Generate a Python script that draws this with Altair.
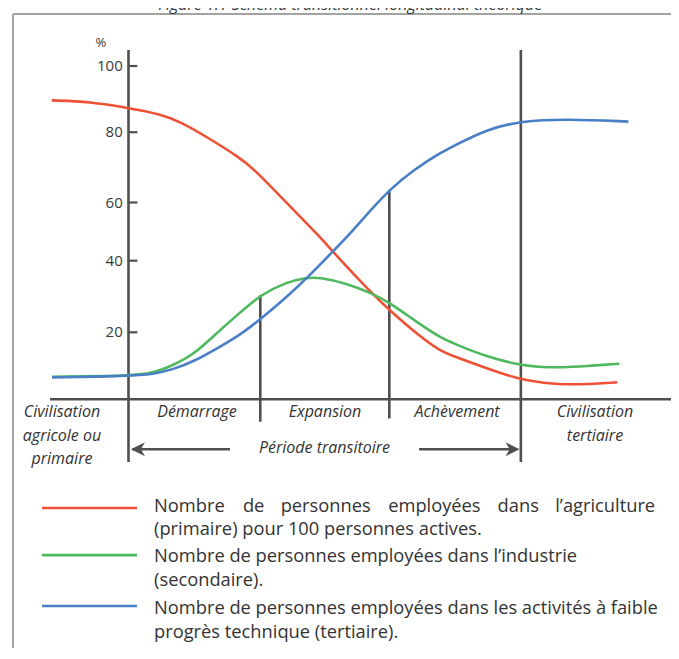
import altair as alt
import pandas as pd

# ---------------- data (x: phase units, 0 = start of "Démarrage"; y: %) ----------------
red_x = [-0.586, -0.294, 0.0, 0.240, 0.393, 0.597, 0.851, 0.953, 1.208, 1.462, 1.559,
         1.856, 1.992, 2.225, 2.378, 2.479, 2.734, 2.996, 3.240, 3.447, 3.731]
red_y = [89.6, 89.2, 87.3, 85.5, 83.2, 78.7, 72.7, 69.7, 59.8, 48.2, 43.1,
         30.9, 26.2, 18.7, 14.5, 12.9, 9.25, 5.76, 4.57, 4.36, 5.07]

green_x = [-0.584, 0.0, 0.189, 0.342, 0.495, 0.698, 0.851, 1.006, 1.208, 1.363, 1.449,
           1.666, 1.856, 1.994, 2.225, 2.378, 2.479, 2.734, 2.998, 3.280, 3.548, 3.747]
green_y = [6.75, 6.96, 7.76, 10.24, 13.22, 20.6, 25.5, 30.4, 34.1, 35.25, 35.4,
           33.7, 30.9, 28.3, 22.2, 18.5, 16.7, 12.7, 10.0, 9.34, 10.1, 10.6]

blue_x = [-0.584, 0.0, 0.189, 0.342, 0.495, 0.698, 0.851, 1.006, 1.208, 1.365, 1.559,
          1.716, 1.843, 1.991, 2.174, 2.378, 2.479, 2.734, 3.0, 3.340, 3.816]
blue_y = [6.5, 6.96, 7.46, 8.96, 11.2, 15.7, 19.2, 23.6, 29.9, 35.25, 43.1,
          50.5, 57.1, 63.6, 69.2, 74.1, 76.0, 80.9, 83.4, 84.0, 83.2]

series_names = ["primaire", "secondaire", "tertiaire"]
series_colors = ["#EE5236", "#4DB85D", "#4A7FC7"]

y_ticks = [20, 40, 60, 80, 100]

phase_labels = ["Civilisation", "agricole ou", "primaire", "Démarrage", "Expansion",
                "Achèvement", "Civilisation", "tertiaire"]
transition_label = "Période transitoire"
title_text = "Figure 1.1 Schéma transitionnel longitudinal théorique"

legend_first_words = ["Nombre", "de", "personnes", "employées", "dans", "l’agriculture"]
legend_lines = [
    "(primaire) pour 100 personnes actives.",
    "Nombre de personnes employées dans l’industrie",
    "(secondaire).",
    "Nombre de personnes employées dans les activités à faible",
    "progrès technique (tertiaire).",
]

# ---------------- layout (positions in the same scale units) ----------------
phase_pos_u = [-0.508, -0.508, -0.508, 0.523, 1.5, 2.508, 3.561, 3.561]
phase_pos_v = [-3.79, -10.81, -17.82, -3.79, -3.70, -3.79, -3.79, -10.81]

W, H = 663, 640
AX = "#4F4F4F"
FONT = "Open Sans"
LEG_FS = 18.3
LEG_U = 0.195

xs = alt.Scale(domain=[-0.9198, 4.1412], nice=False, zero=False)
ys = alt.Scale(domain=[0, 20, 40, 60, 80, 100],
               range=[391.3, 324.3, 252.7, 194.5, 124.2, 58.0],
               nice=False, zero=False)


def X(f):
    return alt.X(f, type="quantitative", scale=xs, axis=None)


def Y(f):
    return alt.Y(f, type="quantitative", scale=ys, axis=None)


# curves
rows = []
for name, xx, yy in zip(series_names, [red_x, green_x, blue_x], [red_y, green_y, blue_y]):
    for a, b in zip(xx, yy):
        rows.append({"s": name, "u": a, "v": b})
curves_df = pd.DataFrame(rows)

# structural lines
rules_df = pd.DataFrame([
    {"u": 0.0, "u2": 0.0, "v": 104.8, "v2": -18.7},
    {"u": 1.006, "u2": 1.006, "v": 30.4, "v2": -6.7},
    {"u": 1.991, "u2": 1.991, "v": 63.6, "v2": -5.7},
    {"u": 2.995, "u2": 2.995, "v": 104.8, "v2": -18.7},
    {"u": -0.599, "u2": 4.2, "v": 0.0, "v2": 0.0},
    {"u": 0.03, "u2": 0.775, "v": -14.93, "v2": -14.93},
    {"u": 2.218, "u2": 2.96, "v": -14.93, "v2": -14.93},
])
ticks_df = pd.DataFrame({"u": [0.0] * 5, "u2": [0.068] * 5, "v": y_ticks, "v2": y_ticks})
tick_lab_df = pd.DataFrame({"u": [-0.044] * 5, "v": y_ticks, "t": [str(t) for t in y_ticks]})

frame_df = pd.DataFrame([
    {"u": -0.8817, "u2": 4.3, "v": 115.7, "v2": 115.7},
    {"u": -0.8817, "u2": -0.8817, "v": 115.7, "v2": -95},
])

phase_df = pd.DataFrame({"u": phase_pos_u, "v": phase_pos_v, "t": phase_labels})
trans_df = pd.DataFrame({"u": [1.496], "v": [-14.6], "t": [transition_label]})

arrow_r = pd.DataFrame({"u": [2.985], "v": [-14.93]})
arrow_l = pd.DataFrame({"u": [0.019], "v": [-14.93]})

# legend: first (justified) line word by word, rest left aligned
L1_V = -32.15
first_left = pd.DataFrame({"u": [LEG_U], "v": [L1_V], "t": [legend_first_words[0]]})
first_mid = pd.DataFrame({"u": [0.955, 1.505, 2.335, 2.975], "v": [L1_V] * 4,
                          "t": legend_first_words[1:5]})
first_right = pd.DataFrame({"u": [4.02], "v": [L1_V], "t": [legend_first_words[5]]})
leg_df = pd.DataFrame({"u": [LEG_U] * 5, "v": [-39.0, -47.07, -54.24, -62.6, -69.76],
                       "t": legend_lines})
leg_lines_df = pd.DataFrame({"u": [-0.660] * 3, "u2": [0.065] * 3,
                             "v": [-32.45, -46.5, -61.7], "v2": [-32.45, -46.5, -61.7],
                             "s": series_names})

title_df = pd.DataFrame({"u": [1.693], "v": [116.9], "t": [title_text]})
pct_df = pd.DataFrame({"u": [-0.21], "v": [107.0], "t": ["%"]})

color_enc = alt.Color("s:N", scale=alt.Scale(domain=series_names, range=series_colors), legend=None)

frame = alt.Chart(frame_df).mark_rule(color="#A3A3A3", strokeWidth=2).encode(
    x=X("u"), x2="u2", y=Y("v"), y2="v2")
title = alt.Chart(title_df).mark_text(font=FONT, fontSize=16, fontStyle="italic", color="#333333",
                                       align="center", baseline="alphabetic").encode(
    x=X("u"), y=Y("v"), text="t:N")
rules = alt.Chart(rules_df).mark_rule(color=AX, strokeWidth=2.6).encode(
    x=X("u"), x2="u2", y=Y("v"), y2="v2")
ticks = alt.Chart(ticks_df).mark_rule(color=AX, strokeWidth=2.2).encode(
    x=X("u"), x2="u2", y=Y("v"), y2="v2")
tick_labels = alt.Chart(tick_lab_df).mark_text(font=FONT, fontSize=15, color="#3A3A3A",
                                               align="right", baseline="middle").encode(
    x=X("u"), y=Y("v"), text="t:N")
pct = alt.Chart(pct_df).mark_text(font=FONT, fontSize=13, color="#3A3A3A",
                                  align="center", baseline="middle").encode(
    x=X("u"), y=Y("v"), text="t:N")
curves = alt.Chart(curves_df).mark_line(interpolate="basis", strokeWidth=2.6).encode(
    x=X("u"), y=Y("v"), color=color_enc, detail="s:N", order="u:Q")
phases = alt.Chart(phase_df).mark_text(font=FONT, fontSize=16, fontStyle="italic", color="#333333",
                                       align="center", baseline="middle").encode(
    x=X("u"), y=Y("v"), text="t:N")
trans = alt.Chart(trans_df).mark_text(font=FONT, fontSize=16, fontStyle="italic", color="#333333",
                                      align="center", baseline="middle").encode(
    x=X("u"), y=Y("v"), text="t:N")
ar = alt.Chart(arrow_r).mark_point(shape="M0,0L-1,-0.5L-0.7,0L-1,0.5Z", size=784, filled=True,
                                   color=AX, opacity=1, strokeWidth=0).encode(x=X("u"), y=Y("v"))
al = alt.Chart(arrow_l).mark_point(shape="M0,0L1,-0.5L0.7,0L1,0.5Z", size=784, filled=True,
                                   color=AX, opacity=1, strokeWidth=0).encode(x=X("u"), y=Y("v"))
leg_lines = alt.Chart(leg_lines_df).mark_rule(strokeWidth=2.6).encode(
    x=X("u"), x2="u2", y=Y("v"), y2="v2", color=color_enc)


def leg_layer(df, align):
    return alt.Chart(df).mark_text(font=FONT, fontSize=LEG_FS, color="#333333",
                                   align=align, baseline="middle").encode(
        x=X("u"), y=Y("v"), text="t:N")


chart = alt.layer(
    frame, title, rules, ticks, tick_labels, pct, curves, phases, trans, ar, al, leg_lines,
    leg_layer(first_left, "left"), leg_layer(first_mid, "center"), leg_layer(first_right, "right"),
    leg_layer(leg_df, "left"),
).properties(
    width=W, height=H, padding=0,
    autosize=alt.AutoSizeParams(type="none"),
).configure_view(stroke=None)

chart.save("out.html", embed_options={"renderer": "svg", "actions": False})
